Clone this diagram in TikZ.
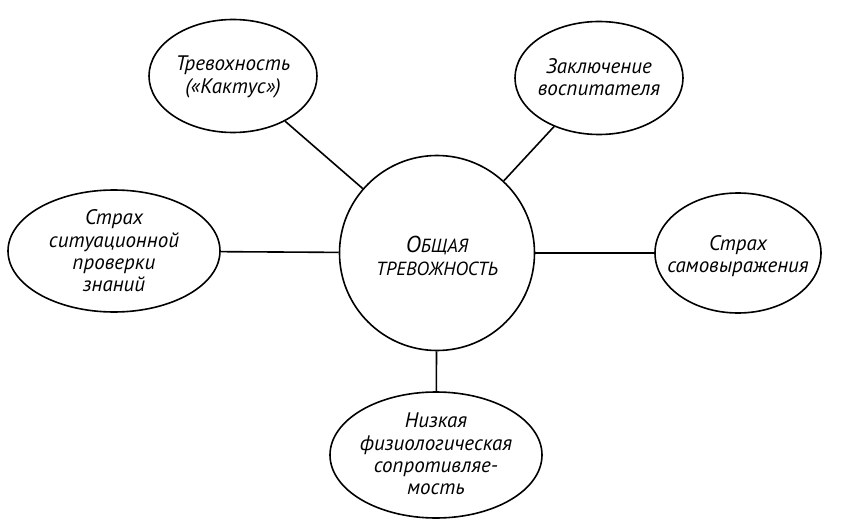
\documentclass[tikz,border=0pt]{standalone}
\usepackage{fontspec}
\setmainfont{PT Sans}
\usetikzlibrary{shapes.geometric}
\begin{document}
\begin{tikzpicture}[x=1pt,y=-1pt,
  bub/.style={draw,ellipse,line width=1.6pt,inner sep=0pt},
  txt/.style={align=center,inner sep=0pt,font=\fontsize{21}{22.3}\selectfont\itshape},
  link/.style={line width=1.6pt}]
\useasboundingbox (0,0) rectangle (852,524);
\node[bub,circle,minimum size=195] (c) at (437,253) {};
\node[txt] (ct) at (437,256)
  {{\fontsize{23}{24}\selectfont О}{\fontsize{19}{24}\selectfont БЩАЯ}\\{\fontsize{19}{24}\selectfont ТРЕВОЖНОСТЬ}};
\node[bub,minimum width=168,minimum height=113] (tl) at (233,76) {};
\node[txt] (tlt) at (233,77) {Тревохность\\(«Кактус»)};
\node[bub,minimum width=168,minimum height=113] (tr) at (599,78) {};
\node[txt] (trt) at (599,77) {Заключение\\воспитателя};
\node[bub,minimum width=212,minimum height=122] (l) at (114,251) {};
\node[txt] (lt) at (114,251) {Страх\\ситуационной\\проверки\\знаний};
\node[bub,minimum width=166,minimum height=120] (r) at (738,253) {};
\node[txt] (rt) at (738,256) {Страх\\самовыражения};
\node[bub,minimum width=212,minimum height=126] (b) at (436,455) {};
\node[txt] (bt) at (436,454) {Низкая\\физиологическая\\сопротивляе-\\мость};
\draw[link] (c) -- (tl);
\draw[link] (c) -- (tr);
\draw[link] (c) -- (l);
\draw[link] (c) -- (r);
\draw[link] (c) -- (b);
\end{tikzpicture}
\end{document}
